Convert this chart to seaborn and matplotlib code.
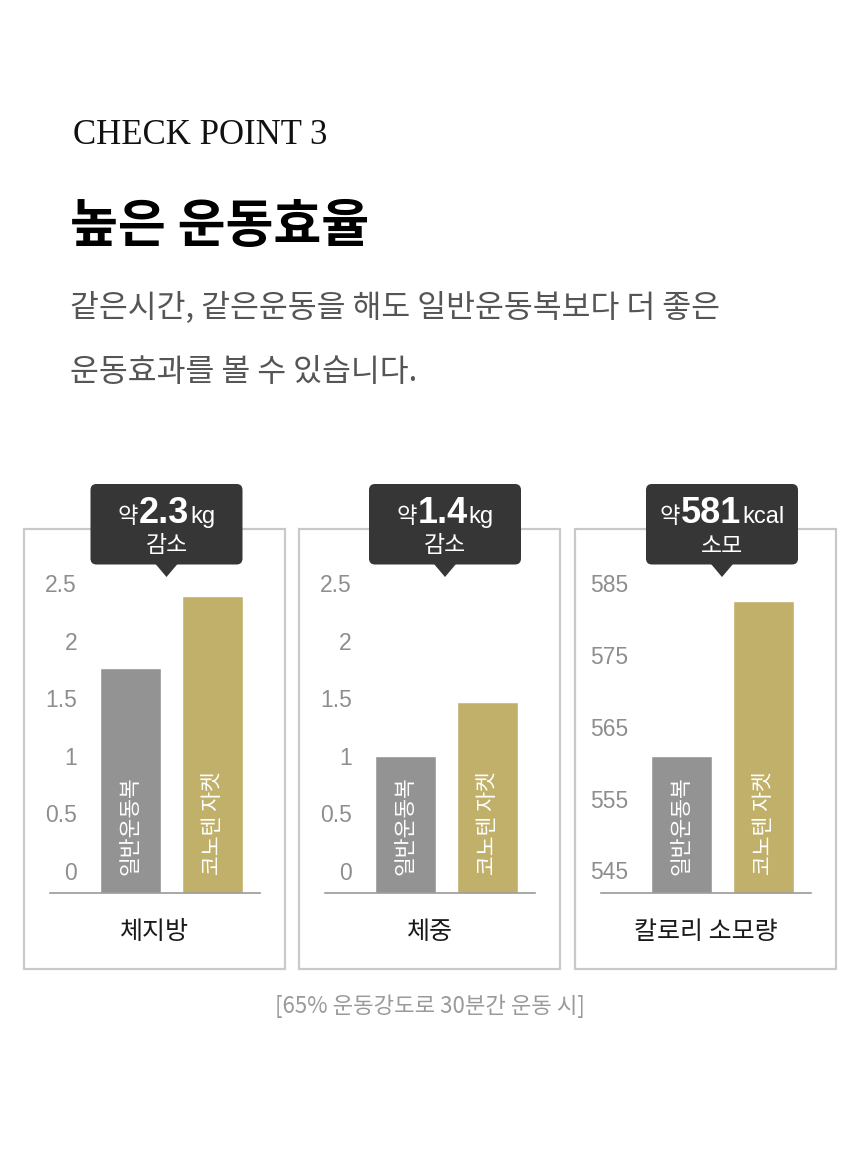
import matplotlib
matplotlib.use("Agg")
import matplotlib.pyplot as plt
import seaborn as sns
import pandas as pd
from matplotlib.transforms import Affine2D, blended_transform_factory
from matplotlib.patches import Rectangle, FancyBboxPatch, Polygon

W, H = 860, 1166
DPI = 100

# ---------------- data ----------------
categories = ["일반운동복", "코노텐 자켓"]
panel_titles = ["체지방", "체중", "칼로리 소모량"]
fat_values = [1.76, 2.39]
weight_values = [1.0, 1.47]
kcal_values = [561.0, 582.5]
fat_ticks = [0, 0.5, 1, 1.5, 2, 2.5]
fat_tick_labels = ["0", "0.5", "1", "1.5", "2", "2.5"]
weight_ticks = [0, 0.5, 1, 1.5, 2, 2.5]
weight_tick_labels = ["0", "0.5", "1", "1.5", "2", "2.5"]
kcal_ticks = [545, 555, 565, 575, 585]
kcal_tick_labels = ["545", "555", "565", "575", "585"]
callout_prefix = ["약", "약", "약"]
callout_numbers = ["2.3", "1.4", "581"]
callout_units = ["kg", "kg", "kcal"]
callout_words = ["감소", "감소", "소모"]

header = "CHECK POINT 3"
title = "높은 운동효율"
subtitle_lines = ["같은시간, 같은운동을 해도 일반운동복보다 더 좋은",
                  "운동효과를 볼 수 있습니다."]
footnote = "[65% 운동강도로 30분간 운동 시]"

GRAY = "#939393"
GOLD = "#c1b06a"
DARK = "#363636"

# ---------------- figure ----------------
sns.set_theme(style="white")
plt.rcParams['font.family'] = ['Noto Sans CJK KR', 'DejaVu Sans']

fig = plt.figure(figsize=(W / DPI, H / DPI), dpi=DPI)
fig.patch.set_facecolor("white")
# transform: image pixel coordinates (y down) -> display
T = Affine2D().scale(1 / DPI, -1 / DPI).translate(0, H / DPI) + fig.dpi_scale_trans

fig.text(73, 144, header, transform=T, fontfamily=['Liberation Serif'],
         fontsize=25, color="#111111", va="baseline", ha="left")
fig.text(70, 242, title, transform=T, fontsize=37.5, fontweight="bold",
         color="black", va="baseline", ha="left")
fig.text(70, 317, subtitle_lines[0], transform=T, fontsize=22.6,
         color="#555555", va="baseline", ha="left")
fig.text(70, 381, subtitle_lines[1], transform=T, fontsize=22.6,
         color="#555555", va="baseline", ha="left")
fig.text(430, 1006, footnote, transform=T, fontsize=16, color="#9a9a9a",
         ha="center", va="center")

panels = [
    (fat_values, fat_ticks, fat_tick_labels),
    (weight_values, weight_ticks, weight_tick_labels),
    (kcal_values, kcal_ticks, kcal_tick_labels),
]
offsets = [0, 275, 551]
callout_cx = [166.5, 445, 722]

AX_BOTTOM, AX_TOP, ZERO_PX = 893.0, 583.5, 870.5
callout_rows = []

for i, (vals, ticks, tlabels) in enumerate(panels):
    off = offsets[i]
    # frame box
    fig.add_artist(Rectangle((24 + off, 529), 261, 440, transform=T, fill=False,
                             ec="#c9c9c9", lw=1.6, zorder=1))

    ax = fig.add_axes([(50 + off) / W, 1 - AX_BOTTOM / H, 210 / W,
                       (AX_BOTTOM - AX_TOP) / H])
    ax.set_facecolor("none")
    df = pd.DataFrame({"item": categories, "value": vals})
    sns.barplot(data=df, x="item", y="value", hue="item",
                palette=[GRAY, GOLD], width=0.744, saturation=1,
                legend=False, ax=ax)

    t0, t1 = ticks[0], ticks[-1]
    ybot = t0 - (AX_BOTTOM - ZERO_PX) / (ZERO_PX - AX_TOP) * (t1 - t0)
    ax.set_ylim(ybot, t1)
    for p in ax.patches:
        h = p.get_height()
        p.set_y(ybot)
        p.set_height(h - ybot)
    ax.set_xlim(-0.982, 1.579)

    ax.set_yticks(ticks)
    ax.set_yticklabels(tlabels, fontfamily=['Liberation Sans'])
    ax.tick_params(axis="y", length=0, pad=-27 * 0.72, labelsize=16.5,
                   labelcolor="#8e8e8e")
    ax.tick_params(axis="x", bottom=False, labelbottom=False)
    ax.set_xlabel("")
    ax.set_ylabel("")
    for s in ["top", "right", "left"]:
        ax.spines[s].set_visible(False)
    ax.spines["bottom"].set_color("#9a9a9a")
    ax.spines["bottom"].set_linewidth(1.2)

    bt = blended_transform_factory(ax.transData, ax.transAxes)
    for j, cat in enumerate(categories):
        ax.text(j, (AX_BOTTOM - 875) / (AX_BOTTOM - AX_TOP), cat, transform=bt,
                rotation=90, ha="center", va="bottom", color="white",
                fontsize=15.5, zorder=4)

    fig.text(154.5 + off, 932, panel_titles[i], transform=T, ha="center",
             va="center", fontsize=18, color="#1a1a1a")

    # callout
    cx = callout_cx[i]
    fig.add_artist(FancyBboxPatch((cx - 76, 484), 152, 80.5,
                                  boxstyle="round,pad=0,rounding_size=6",
                                  transform=T, fc=DARK, ec="none", zorder=5))
    fig.add_artist(Polygon([(cx - 11, 564), (cx + 11, 564), (cx, 577)],
                           closed=True, transform=T, fc=DARK, ec="none", zorder=5))
    pieces = [
        (callout_prefix[i], dict(fontsize=16, fontfamily=['Noto Sans CJK KR'])),
        (callout_numbers[i], dict(fontsize=26, fontfamily=['Liberation Sans'],
                                  fontweight="bold")),
        (callout_units[i], dict(fontsize=17, fontfamily=['Liberation Sans'])),
    ]
    texts = [fig.text(0, 523, s, transform=T, ha="left", va="baseline",
                      color="white", zorder=6, **kw) for s, kw in pieces]
    callout_rows.append((cx, texts))
    fig.text(cx, 546, callout_words[i], transform=T, ha="center", va="center",
             fontsize=16.5, color="white", zorder=6)

fig.canvas.draw()
r = fig.canvas.get_renderer()
gap = 1
for cx, texts in callout_rows:
    widths = [t.get_window_extent(r).width for t in texts]
    total = sum(widths) + gap * (len(texts) - 1)
    x = cx - total / 2
    for t, w in zip(texts, widths):
        t.set_x(x)
        x += w + gap

fig.savefig("out.png", dpi=DPI, facecolor="white")
